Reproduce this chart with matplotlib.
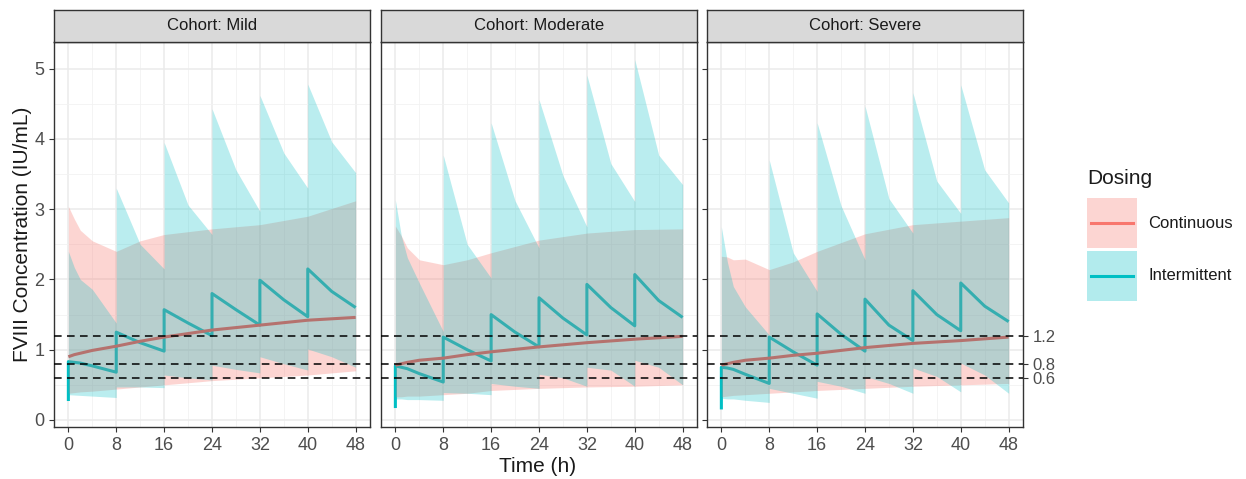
import numpy as np
import matplotlib.pyplot as plt
from matplotlib.patches import Rectangle
from matplotlib.lines import Line2D

plt.rcParams['font.family'] = ['Liberation Sans', 'DejaVu Sans']

# Данные
cohorts = ['Mild', 'Moderate', 'Severe']
t_int = [0, 0, 1, 2, 4, 8, 8, 12, 16, 16, 20, 24, 24, 28, 32, 32, 36, 40, 40, 44, 48]
t_cont = [0, 1, 2, 4, 8, 12, 16, 24, 32, 40, 48]

int_med_mild = [0.27, 0.83, 0.82, 0.81, 0.77, 0.68, 1.25, 1.10, 0.98, 1.57, 1.38, 1.20, 1.80, 1.57, 1.35, 1.99, 1.71, 1.47, 2.15, 1.83, 1.60]
int_hi_mild = [2.40, 2.40, 2.17, 2.00, 1.86, 1.38, 3.30, 2.50, 2.15, 3.95, 3.06, 2.64, 4.43, 3.56, 2.97, 4.62, 3.80, 3.30, 4.78, 3.96, 3.52]
int_lo_mild = [0.36, 0.36, 0.355, 0.35, 0.34, 0.32, 0.47, 0.47, 0.46, 0.64, 0.60, 0.57, 0.78, 0.72, 0.67, 0.90, 0.80, 0.71, 1.01, 0.90, 0.75]
cont_med_mild = [0.90, 0.93, 0.95, 0.99, 1.05, 1.12, 1.18, 1.28, 1.35, 1.42, 1.46]
cont_hi_mild = [3.04, 2.86, 2.70, 2.55, 2.40, 2.55, 2.64, 2.72, 2.78, 2.90, 3.12]
cont_lo_mild = [0.38, 0.39, 0.40, 0.41, 0.44, 0.47, 0.50, 0.56, 0.60, 0.64, 0.70]

int_med_mod = [0.17, 0.77, 0.75, 0.73, 0.66, 0.54, 1.18, 1.00, 0.84, 1.50, 1.25, 1.04, 1.74, 1.45, 1.21, 1.93, 1.60, 1.34, 2.07, 1.70, 1.46]
int_hi_mod = [3.13, 3.13, 2.62, 2.31, 1.95, 1.26, 3.77, 2.50, 2.02, 4.23, 3.12, 2.45, 4.56, 3.48, 2.75, 4.91, 3.65, 3.11, 5.13, 3.77, 3.35]
int_lo_mod = [0.30, 0.30, 0.30, 0.29, 0.29, 0.28, 0.39, 0.38, 0.36, 0.52, 0.48, 0.45, 0.65, 0.60, 0.48, 0.75, 0.71, 0.48, 0.85, 0.75, 0.50]
cont_med_mod = [0.78, 0.80, 0.82, 0.85, 0.88, 0.93, 0.97, 1.04, 1.10, 1.15, 1.19]
cont_hi_mod = [2.76, 2.62, 2.45, 2.28, 2.21, 2.28, 2.38, 2.56, 2.66, 2.71, 2.72]
cont_lo_mod = [0.33, 0.33, 0.34, 0.34, 0.36, 0.38, 0.42, 0.45, 0.47, 0.48, 0.50]

int_med_sev = [0.15, 0.75, 0.74, 0.72, 0.65, 0.52, 1.18, 0.97, 0.78, 1.51, 1.22, 0.98, 1.72, 1.35, 1.13, 1.84, 1.50, 1.27, 1.95, 1.62, 1.40]
int_hi_sev = [2.75, 2.75, 2.25, 1.90, 1.61, 1.21, 3.70, 2.38, 1.83, 4.23, 3.05, 2.28, 4.47, 3.15, 2.66, 4.66, 3.40, 2.94, 4.77, 3.56, 3.09]
int_lo_sev = [0.31, 0.31, 0.30, 0.30, 0.28, 0.25, 0.45, 0.38, 0.31, 0.55, 0.48, 0.38, 0.62, 0.52, 0.38, 0.74, 0.62, 0.40, 0.81, 0.64, 0.38]
cont_med_sev = [0.78, 0.80, 0.82, 0.85, 0.88, 0.92, 0.95, 1.03, 1.09, 1.13, 1.18]
cont_hi_sev = [2.33, 2.32, 2.28, 2.29, 2.14, 2.25, 2.40, 2.65, 2.78, 2.83, 2.88]
cont_lo_sev = [0.33, 0.34, 0.35, 0.36, 0.38, 0.40, 0.42, 0.45, 0.48, 0.50, 0.52]

ref_levels = [0.6, 0.8, 1.2]
x_ticks = [0, 8, 16, 24, 32, 40, 48]
y_ticks = [0, 1, 2, 3, 4, 5]

series = [
    (int_med_mild, int_hi_mild, int_lo_mild, cont_med_mild, cont_hi_mild, cont_lo_mild),
    (int_med_mod, int_hi_mod, int_lo_mod, cont_med_mod, cont_hi_mod, cont_lo_mod),
    (int_med_sev, int_hi_sev, int_lo_sev, cont_med_sev, cont_hi_sev, cont_lo_sev),
]

RED = '#F8766D'
TEAL = '#00BFC4'
W, H = 1246, 479
fig = plt.figure(figsize=(W / 100, H / 100), dpi=100)

def fx(px):
    return px / W

def fy(py):
    return 1 - py / H

lefts = [54, 381, 707]
pw = 316
top, bottom, strip_top = 42, 427, 10
axes = []
for i, name in enumerate(cohorts):
    l = lefts[i]
    ax = fig.add_axes([fx(l), fy(bottom), pw / W, (bottom - top) / H])
    im, ih, ilo, cm, ch, clo = series[i]
    ax.plot(t_int, im, color=TEAL, lw=2.2, zorder=2, solid_capstyle='butt')
    ax.fill_between(t_cont, clo, ch, color=RED, alpha=0.3, lw=0, zorder=3)
    ax.fill_between(t_int, ilo, ih, color=TEAL, alpha=0.27, lw=0, zorder=3)
    # медиана непрерывного введения видна сквозь обе ленты
    ax.plot(t_cont, cm, color='#B5726E', lw=2.2, zorder=3.5, solid_capstyle='butt')
    for lv in ref_levels:
        ax.axhline(lv, color='black', lw=1.1, ls=(0, (5, 3.5)), zorder=4, clip_on=False)
    ax.set_xlim(-2.4, 50.4)
    ax.set_ylim(-0.1, 5.38)
    ax.set_xticks(x_ticks)
    ax.set_xticks([4, 12, 20, 28, 36, 44], minor=True)
    ax.set_yticks(y_ticks)
    ax.set_yticks([0.5, 1.5, 2.5, 3.5, 4.5], minor=True)
    ax.grid(which='major', color='#EBEBEB', lw=1.1, zorder=0)
    ax.grid(which='minor', color='#F2F2F2', lw=0.6, zorder=0)
    ax.set_axisbelow(True)
    ax.tick_params(which='major', length=3.5, color='#333333', labelsize=13,
                   labelcolor='#4D4D4D', width=0.8)
    ax.tick_params(which='minor', length=0)
    if i > 0:
        ax.tick_params(axis='y', left=False, labelleft=False)
    for s in ax.spines.values():
        s.set_color('#333333')
        s.set_linewidth(1.0)
    # полоска с названием
    sa = fig.add_axes([fx(l), fy(top), pw / W, (top - strip_top) / H])
    sa.set_facecolor('#D9D9D9')
    sa.set_xticks([])
    sa.set_yticks([])
    for s in sa.spines.values():
        s.set_color('#333333')
        s.set_linewidth(1.0)
    sa.text(0.5, 0.5, 'Cohort: ' + name, ha='center', va='center', fontsize=12,
            color='#1A1A1A', transform=sa.transAxes)
    axes.append(ax)

# вторая ось справа
ax2 = axes[2].twinx()
ax2.set_ylim(axes[2].get_ylim())
ax2.set_yticks(ref_levels)
ax2.set_yticklabels(['0.6', '0.8', '1.2'])
ax2.tick_params(length=3.5, color='#333333', labelsize=12, labelcolor='#4D4D4D', width=0.8)
for s in ax2.spines.values():
    s.set_visible(False)

fig.text(fx(23), fy(234), 'FVIII Concentration (IU/mL)', rotation=90, ha='center',
         va='center', fontsize=15, color='#1A1A1A')
fig.text(fx(538), fy(466), 'Time (h)', ha='center', va='center', fontsize=15, color='#1A1A1A')

# легенда
lg = fig.add_axes([0, 0, 1, 1])
lg.set_xlim(0, W)
lg.set_ylim(H, 0)
lg.axis('off')
lg.text(1087, 178, 'Dosing', fontsize=15, va='center', ha='left', color='#1A1A1A')
for j, (lab, col) in enumerate([('Continuous', RED), ('Intermittent', TEAL)]):
    y0 = 198 + j * 53
    lg.add_patch(Rectangle((1087, y0), 50, 50, facecolor=col, alpha=0.3, lw=0))
    lg.add_line(Line2D([1091, 1133], [y0 + 25, y0 + 25], color=col, lw=2.2))
    lg.text(1148, y0 + 25, lab, fontsize=12, va='center', ha='left', color='#1A1A1A')

fig.savefig('out.png', dpi=100)
